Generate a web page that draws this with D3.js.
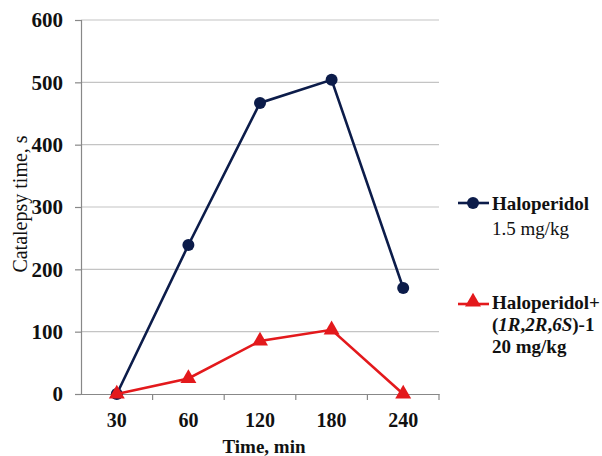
<!DOCTYPE html>
<html><head><meta charset="utf-8">
<script src="https://cdn.jsdelivr.net/npm/d3@7"></script>
<style>
body{margin:0;background:#fff;}
svg{display:block;}
</style></head>
<body>
<svg id="chart" width="602" height="456"></svg>
<script>
const categories = ["30","60","120","180","240"];
const haloperidol = [0, 239, 467, 504, 170];
const combo = [0, 25, 85, 103, 0];
const yTicks = [0,100,200,300,400,500,600];

(function(){
const FONT = "'Liberation Serif'";
const svg = d3.select("#chart");
const mLeft = 81, mRight = 439, mTop = 20, mBottom = 394;

const x = d3.scaleBand().domain(categories).range([mLeft, mRight]);
const y = d3.scaleLinear().domain([0,600]).range([mBottom, mTop]);

// gridlines
svg.append("g").selectAll("line").data(yTicks.filter(d=>d>0)).join("line")
  .attr("x1", mLeft).attr("x2", mRight)
  .attr("y1", d=>y(d)).attr("y2", d=>y(d))
  .attr("stroke", "#c4c4c4").attr("stroke-width", 1.2);

// y axis
const yAxis = svg.append("g").attr("transform", `translate(${mLeft},0)`)
  .call(d3.axisLeft(y).tickValues(yTicks).tickSize(6).tickPadding(12));
yAxis.attr("font-family", null).attr("font-size", null);
yAxis.select(".domain").attr("stroke", "#888").attr("stroke-width", 1.2);
yAxis.selectAll(".tick line").attr("stroke", "#888").attr("stroke-width", 1.2);
yAxis.selectAll(".tick text").style("font-family", FONT).style("font-weight", "bold")
  .style("font-size", "21px").attr("fill", "#111");

// x axis
const xAxis = svg.append("g").attr("transform", `translate(0,${mBottom})`)
  .call(d3.axisBottom(x).tickSize(0).tickPadding(19));
xAxis.attr("font-family", null).attr("font-size", null);
xAxis.select(".domain").attr("stroke", "#888").attr("stroke-width", 1.2);
xAxis.selectAll(".tick text").style("font-family", FONT).style("font-weight", "bold")
  .style("font-size", "20px").attr("fill", "#111");
// category boundary tick marks
svg.append("g").selectAll("line").data(categories).join("line")
  .attr("x1", d=>x(d)+x.bandwidth()).attr("x2", d=>x(d)+x.bandwidth())
  .attr("y1", mBottom).attr("y2", mBottom+6)
  .attr("stroke", "#888").attr("stroke-width", 1.2);

// axis titles
svg.append("text").attr("transform", "translate(27,204) rotate(-90)")
  .attr("text-anchor", "middle").style("font-family", FONT).style("font-size", "20px").attr("fill", "#111")
  .text("Catalepsy time, s");
svg.append("text").attr("x", 264).attr("y", 453)
  .attr("text-anchor", "middle").style("font-family", FONT).style("font-size", "19px").style("font-weight", "bold").attr("fill", "#111")
  .text("Time, min");

const cx = d => x(d) + x.bandwidth()/2;
const blue = "#0c1c4a", red = "#e3191c";
const line = d3.line().x((d,i)=>cx(categories[i])).y(d=>y(d));

// blue series
svg.append("path").datum(haloperidol).attr("d", line)
  .attr("fill", "none").attr("stroke", blue).attr("stroke-width", 2.6);
svg.append("g").selectAll("circle").data(haloperidol).join("circle")
  .attr("cx", (d,i)=>cx(categories[i])).attr("cy", d=>y(d)).attr("r", 6)
  .attr("fill", blue);

// red series
const tri = d3.symbol().type(d3.symbolTriangle).size(110);
svg.append("path").datum(combo).attr("d", line)
  .attr("fill", "none").attr("stroke", red).attr("stroke-width", 2.6);
svg.append("g").selectAll("path").data(combo).join("path")
  .attr("d", tri)
  .attr("transform", (d,i)=>`translate(${cx(categories[i])},${y(d)})`)
  .attr("fill", red);

// legend
const lg = svg.append("g");
const lt = (xx, yy, txt, bold) => lg.append("text").attr("x", xx).attr("y", yy)
  .style("font-family", FONT).style("font-size", "19px").style("font-weight", bold ? "bold" : "normal")
  .attr("fill", "#111").text(txt);
lg.append("line").attr("x1", 458).attr("x2", 489).attr("y1", 203).attr("y2", 203)
  .attr("stroke", blue).attr("stroke-width", 2.6);
lg.append("circle").attr("cx", 473).attr("cy", 203).attr("r", 6).attr("fill", blue);
lt(492, 210, "Haloperidol", true);
lt(492, 235, "1.5 mg/kg", false);

lg.append("line").attr("x1", 458).attr("x2", 489).attr("y1", 304).attr("y2", 304)
  .attr("stroke", red).attr("stroke-width", 2.6);
lg.append("path").attr("d", tri).attr("transform", "translate(473,302)").attr("fill", red);
lt(492, 309, "Haloperidol+", true);
const t2 = lt(492, 331, "", true);
t2.append("tspan").text("(");
t2.append("tspan").style("font-style", "italic").text("1R");
t2.append("tspan").text(",");
t2.append("tspan").style("font-style", "italic").text("2R");
t2.append("tspan").text(",");
t2.append("tspan").style("font-style", "italic").text("6S");
t2.append("tspan").text(")-1");
lt(492, 353, "20 mg/kg", true);
})();
</script>
</body></html>
